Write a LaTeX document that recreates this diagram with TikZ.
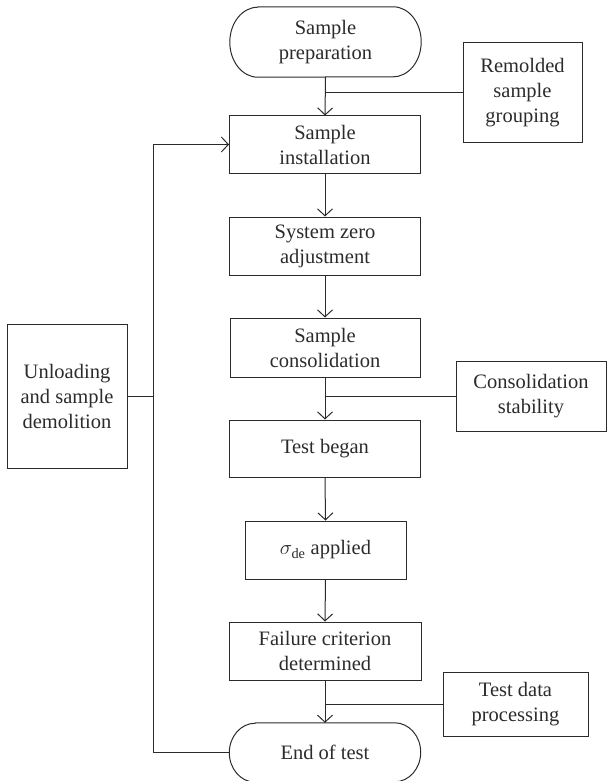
\documentclass[tikz,border=0pt]{standalone}
\usepackage{fontspec}
\setmainfont{Liberation Serif}
\usetikzlibrary{arrows.meta}
\definecolor{ink}{HTML}{2B2B2B}
\begin{document}
\begin{tikzpicture}[x=1pt,y=-1pt,
  txt/.style={inner sep=0pt,align=center,text=ink,font=\fontsize{20.5}{25}\selectfont},
  box/.style={txt,draw=ink,line width=1pt},
  flow/.style={draw=ink,line width=1pt},
  arr/.style={flow,-{Straight Barb[length=7pt,width=15pt,line width=1pt]}}]
\useasboundingbox (0,0) rectangle (608,781);
\node[txt,minimum width=191pt,minimum height=70pt] (prep) at (325.5,42) {Sample\\preparation};
\node[box,minimum width=119pt,minimum height=99pt] (remold) at (522.5,92.5) {Remolded\\sample\\grouping};
\node[box,minimum width=191pt,minimum height=57pt] (inst) at (325,144.5) {Sample\\installation};
\node[box,minimum width=191pt,minimum height=58pt] (zero) at (325,246) {System zero\\adjustment};
\node[box,minimum width=190pt,minimum height=59pt] (cons) at (325,347.5) {Sample\\consolidation};
\node[box,minimum width=150pt,minimum height=70pt] (stab) at (531,396) {Consolidation\\stability};
\node[box,minimum width=191pt,minimum height=57pt] (began) at (325,448.5) {Test began};
\node[box,minimum width=161pt,minimum height=58pt] (sigma) at (325.5,550) {$\sigma_{\mathrm{de}}$ applied};
\node[box,minimum width=192pt,minimum height=58pt] (fail) at (325,651) {Failure criterion\\determined};
\node[box,minimum width=145pt,minimum height=64pt] (data) at (515.5,704) {Test data\\processing};
\node[txt,minimum width=191pt,minimum height=59pt] (end) at (325,752.5) {End of test};
\node[box,minimum width=120pt,minimum height=144pt] (unload) at (67,396) {Unloading\\and sample\\demolition};
% terminal outlines (elliptic ends)
\draw[flow] ([xshift=28pt]prep.north west) -- ([xshift=-28pt]prep.north east)
  arc[start angle=90,end angle=-90,x radius=28pt,y radius=35pt]
  -- ([xshift=28pt]prep.south west)
  arc[start angle=-90,end angle=-270,x radius=28pt,y radius=35pt] -- cycle;
\draw[flow] ([xshift=26pt]end.north west) -- ([xshift=-26pt]end.north east)
  arc[start angle=90,end angle=-90,x radius=26pt,y radius=29.5pt]
  -- ([xshift=26pt]end.south west)
  arc[start angle=-90,end angle=-270,x radius=26pt,y radius=29.5pt] -- cycle;
\coordinate (fb) at (153,0);
\draw[arr] (prep.south) -- (inst.north);
\draw[flow] (remold.west) -- (remold.west -| prep.south);
\draw[arr] (inst.south) -- (zero.north);
\draw[arr] (zero.south) -- (cons.north);
\draw[arr] (cons.south) -- (began.north);
\draw[flow] (stab.west) -- (stab.west -| cons.south);
\draw[arr] (began.south) -- (sigma.north);
\draw[arr] (sigma.south) -- (fail.north);
\draw[arr] (fail.south) -- (end.north);
\draw[flow] (data.west) -- (data.west -| fail.south);
\draw[arr] (end.west) -- (end.west -| fb) -- (fb |- inst.west) -- (inst.west);
\draw[flow] (unload.east) -- (unload.east -| fb);
\end{tikzpicture}
\end{document}
